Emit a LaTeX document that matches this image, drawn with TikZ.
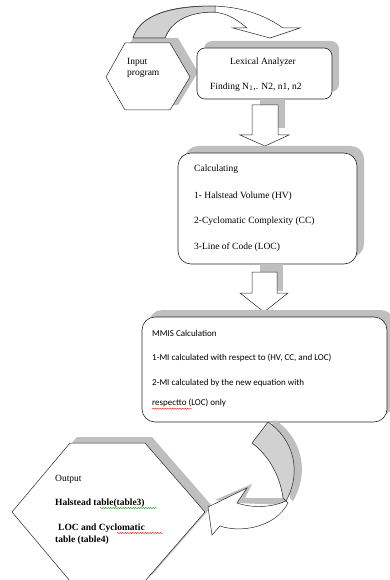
\documentclass[tikz,border=0pt]{standalone}
\usepackage{fontspec}
\setmainfont{Liberation Serif}
\newfontfamily\calfont{Carlito}
\usetikzlibrary{shadows,decorations.pathmorphing}
\tikzstyle{box}=[draw=black!85, fill=white, line width=0.6pt, drop shadow={shadow xshift=7pt, shadow yshift=7pt, opacity=1, fill=black!25}]
\tikzstyle{shade}=[fill=black!25, draw=none]
\tikzstyle{band}=[fill=black!18, draw=black!85, line width=0.5pt]
\tikzstyle{blockarrow}=[draw=black!85, fill=white, line width=0.5pt]
\tikzstyle{txt}=[anchor=west, inner sep=0pt, font=\fontsize{9.5}{11}\selectfont]
\tikzstyle{stxt}=[anchor=west, inner sep=0pt, font=\calfont\fontsize{9}{11}\selectfont]
\tikzstyle{btxt}=[anchor=west, inner sep=0pt, font=\bfseries\fontsize{9.5}{11}\selectfont]
\tikzstyle{squiggle}=[draw=red, line width=0.3pt, decorate, decoration={snake, amplitude=0.6pt, segment length=2.5pt}]

\begin{document}
\begin{tikzpicture}[x=1pt,y=-1pt]
\useasboundingbox (0,0) rectangle (389,580);

% input hexagon and top curved arrow
\fill[shade] (114,72) -- (133,38) -- (178,38) -- (198,72) -- (178,105) -- (133,105) -- cycle;
\draw[blockarrow] (133,38) .. controls (140,15) and (170,6) .. (210,6) .. controls (240,6) and (265,15) .. (283,28) -- (300,28) -- (270,38) -- (233,28) -- (247,28) .. controls (235,18) and (225,12) .. (210,12) .. controls (190,12) and (172,20) .. (165,38) -- cycle;
\draw[band] (133,38) .. controls (140,15) and (170,6) .. (215,6) -- (215,12) .. controls (190,12) and (172,20) .. (165,38) -- cycle;
\draw[blockarrow] (106,77) -- (125,43) -- (170,43) -- (190,77) -- (170,110) -- (125,110) -- cycle;
\node (in1) at (127,62) [txt] {Input};
\node (in2) at (127,74) [txt] {program};

% lexical analyzer
\node (lex) at (264.5,73.5) [box, rounded corners=8pt, minimum width=135, minimum height=51] {};
\node (lex1) at (263,62) [txt, anchor=center] {Lexical Analyzer};
\node (lex2) at (210,87) [txt] {Finding N$_1$,. N2, n1, n2};

% first down arrow
\fill[shade] (260,99) rectangle (285,128);
\draw[blockarrow] (252,105) -- (278,105) -- (278,135) -- (289,135) -- (265,146) -- (240,135) -- (252,135) -- cycle;

% calculating
\node (calc) at (267.5,208.5) [box, rounded corners=13pt, minimum width=179, minimum height=111] {};
\node (calc1) at (194,169) [txt] {Calculating};
\node (calc2) at (194,196) [txt] {1- Halstead Volume (HV)};
\node (calc3) at (194,221) [txt] {2-Cyclomatic Complexity (CC)};
\node (calc4) at (194,247) [txt] {3-Line of Code (LOC)};

% second down arrow
\fill[shade] (260,264) rectangle (283,291);
\draw[blockarrow] (252,272) -- (277,272) -- (277,293) -- (288,293) -- (264,312) -- (240,293) -- (252,293) -- cycle;

% mmis calculation
\node (mmis) at (264.5,369.5) [box, rounded corners=13pt, minimum width=245, minimum height=105] {};
\node (mmis1) at (152,333) [stxt] {MMIS Calculation};
\node (mmis2) at (152,358) [stxt] {1-MI calculated with respect to (HV, CC, and LOC)};
\node (mmis3) at (152,383) [stxt] {2-MI calculated by the new equation with};
\node (mmis4) at (152,403) [stxt] {respectto (LOC) only};
\draw[squiggle] (mmis4.south west) ++(0,1.5) -- ++(40,0);

% output hexagon
\fill[shade] (19,506) -- (77,437) -- (152,437) -- (212,506) -- (152,575) -- (77,575) -- cycle;
\draw[blockarrow] (12,512) -- (70,443) -- (145,443) -- (205,512) -- (145,581) -- (70,581) -- cycle;
\node (out1) at (55,479) [txt] {Output};
\node (out2) at (55,503) [btxt] {Halstead table(table3)};
\node (out3) at (58,528) [btxt] {LOC and Cyclomatic};
\node (out4) at (55,540) [btxt] {table (table4)};
\draw[squiggle, draw=green!60!black] (100,508) -- (157,508);
\draw[squiggle] (117,533) -- (163,533);

% bottom curved arrow
\fill[shade] (275,420) .. controls (300,436) and (311,470) .. (293,501) -- (290,498) .. controls (287,475) and (275,455) .. (259,443) -- cycle;
\fill[shade] (215,500) -- (252,484) -- (245,498) -- (286,498) -- (286,505) -- (237,503) -- cycle;
\draw[band] (268,422) .. controls (292,438) and (303,470) .. (286,501) -- (283,498) .. controls (280,475) and (268,455) .. (252,443) -- cycle;
\draw[blockarrow] (286,501) .. controls (270,508) and (252,508) .. (237,503) -- (247,488) -- (208,507) -- (212,535) -- (220,526) .. controls (240,533) and (275,528) .. (288,503) -- cycle;
\end{tikzpicture}
\end{document}
